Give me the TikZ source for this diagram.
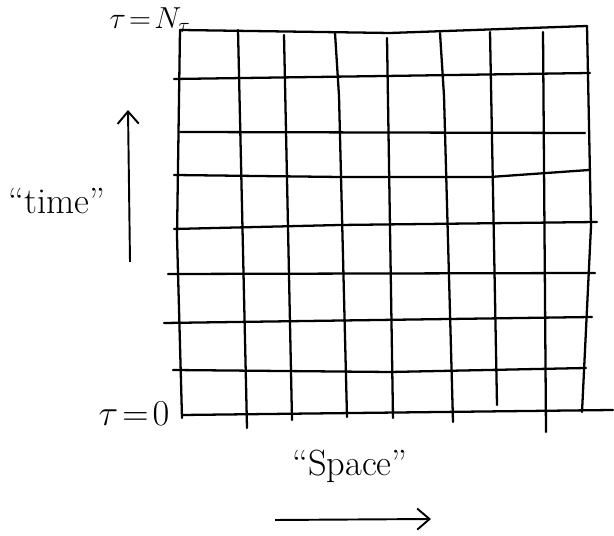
\documentclass[tikz,border=0pt]{standalone}
\usepackage{amsmath}
\usepackage{tikz}
\usetikzlibrary{arrows.meta}

\tikzset{
    gridline/.style={line width=1.3pt, line cap=round},
    label/.style={font=\huge, inner sep=1pt},
    axisarrow/.style={-{Straight Barb[length=7pt, width=12pt]}, line width=1.1pt}
}

\begin{document}
\begin{tikzpicture}
    \useasboundingbox (0,0) rectangle (12.28,10.72);

    % Linhas horizontais (passos de tempo)
    \draw[gridline] (3.60,10.12) -- (7.80,10.06) -- (11.74,10.20);
    \draw[gridline] (3.48,9.14) -- (7.70,9.20) -- (11.80,9.26);
    \draw[gridline] (3.60,8.08) -- (11.70,8.06);
    \draw[gridline] (3.48,7.22) -- (6.80,7.18) -- (9.80,7.18) -- (11.78,7.32);
    \draw[gridline] (3.48,6.14) -- (6.80,6.22) -- (11.94,6.28);
    \draw[gridline] (3.36,5.24) -- (11.90,5.26);
    \draw[gridline] (3.28,4.26) -- (11.84,4.38);
    \draw[gridline] (3.46,3.32) -- (7.80,3.28) -- (11.72,3.36);
    \draw[gridline] (3.64,2.42) -- (12.26,2.52);

    % Linhas verticais (pontos do espaco)
    \draw[gridline] (3.60,10.12) -- (3.54,6.00) -- (3.64,2.36);
    \draw[gridline] (4.76,10.12) -- (4.94,2.16);
    \draw[gridline] (5.68,10.02) -- (5.84,2.32);
    \draw[gridline] (6.70,10.06) -- (6.78,8.80) -- (6.94,2.38);
    \draw[gridline] (7.74,9.96) -- (7.86,2.36);
    \draw[gridline] (8.80,10.06) -- (8.88,8.80) -- (9.06,2.28);
    \draw[gridline] (9.80,10.08) -- (9.94,2.62);
    \draw[gridline] (10.86,10.08) -- (10.92,2.08);
    \draw[gridline] (11.74,10.20) -- (11.82,6.20) -- (11.64,2.48);

    % Rotulos
    \node[label, font=\LARGE] (tauTop) at (3.00,10.32) {$\tau\!=\!N_\tau$};
    \node[label] (tauBottom) at (2.68,2.44) {$\tau\!=\!0$};
    \node[label] (timeLabel) at (1.14,6.70) {``time''};
    \node[label] (spaceLabel) at (7.00,1.40) {``Space''};

    % Setas
    \coordinate (timeStart) at (2.60,5.48);
    \coordinate (timeEnd) at (2.56,8.52);
    \coordinate (spaceStart) at (5.50,0.32);
    \coordinate (spaceEnd) at (8.62,0.34);
    \draw[axisarrow] (timeStart) -- (timeEnd);
    \draw[axisarrow] (spaceStart) -- (spaceEnd);
\end{tikzpicture}
\end{document}
